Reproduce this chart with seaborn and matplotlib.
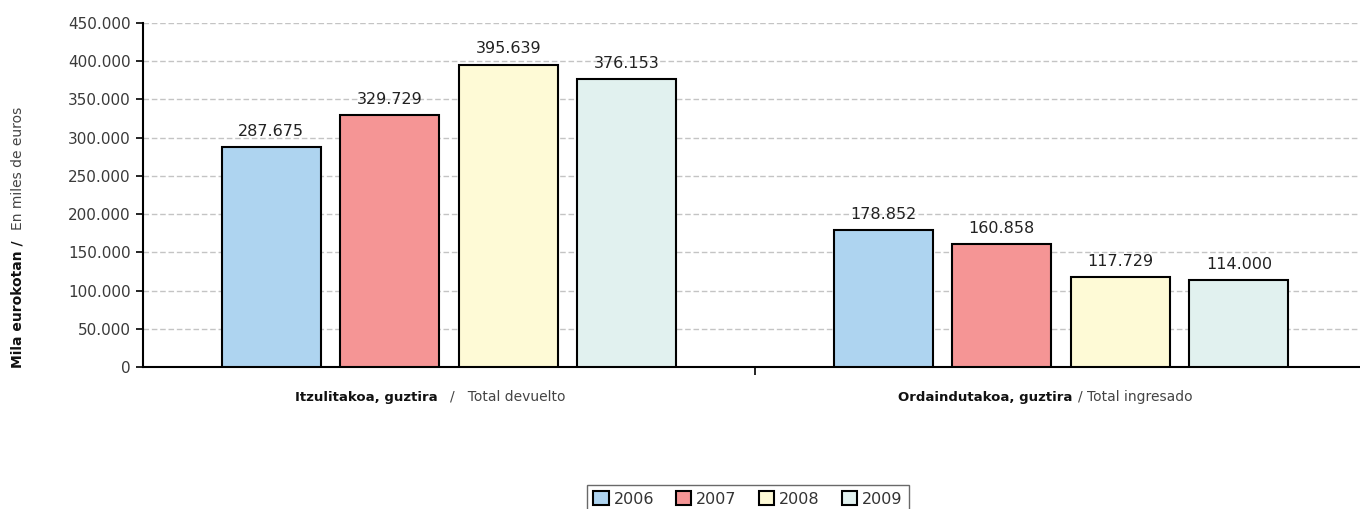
import matplotlib
matplotlib.use("Agg")
import matplotlib.pyplot as plt
import seaborn as sns
import pandas as pd
from matplotlib.ticker import FuncFormatter, MultipleLocator

categories = ["Itzulitakoa, guztira", "Ordaindutakoa, guztira"]
years = ["2006", "2007", "2008", "2009"]
values_2006 = [287675, 178852]
values_2007 = [329729, 160858]
values_2008 = [395639, 117729]
values_2009 = [376153, 114000]
colors = ["#AED4F0", "#F59595", "#FEFAD6", "#E1F1EF"]

rows = []
for yr, vals in zip(years, [values_2006, values_2007, values_2008, values_2009]):
    for c, v in zip(categories, vals):
        rows.append({"cat": c, "year": yr, "value": v})
df = pd.DataFrame(rows)

sns.set_theme(style="white")
plt.rcParams["font.family"] = ["DejaVu Sans"]

W, H = 1360, 509
fig = plt.figure(figsize=(13.6, 5.09), dpi=100)
ax = fig.add_axes([143/W, 1-367/H, 1224/W, (367-23)/H])

sns.barplot(data=df, x="cat", y="value", hue="year", palette=colors,
            saturation=1, edgecolor="black", linewidth=1.5, width=0.775,
            gap=0.165, ax=ax, legend=True, zorder=3)

thou = lambda v, p=None: f"{v:,.0f}".replace(",", ".")
for cont in ax.containers:
    ax.bar_label(cont, fmt=lambda v: f"{v:,.0f}".replace(",", "."),
                 padding=6, fontsize=11.5, color="#222222")

ax.set_ylim(0, 450000)
ax.set_xlim(-0.5, 1.5)
ax.yaxis.set_major_locator(MultipleLocator(50000))
ax.yaxis.set_major_formatter(FuncFormatter(thou))
ax.yaxis.grid(True, color="#c4c4c4", linestyle=(0, (4, 2)), linewidth=1, zorder=0)
ax.xaxis.grid(False)
ax.set_axisbelow(True)
ax.set_xticks([0.5])
ax.set_xticklabels([""])
ax.set_xlabel("")
ax.set_ylabel("")
for s in ["top", "right"]:
    ax.spines[s].set_visible(False)
for s in ["left", "bottom"]:
    ax.spines[s].set_color("black")
    ax.spines[s].set_linewidth(1.5)
ax.tick_params(axis="y", length=5, width=1.2, color="black", labelsize=11,
               labelcolor="#3a3a3a", left=True, pad=4)
ax.tick_params(axis="x", length=6, width=1.2, color="black", bottom=True)

# category labels (bold + regular)
ylab = 1 - 397/H
fig.text(438/W, ylab, "Itzulitakoa, guztira", ha="right", va="center",
         fontsize=9.5, fontweight="bold", color="#111111")
fig.text(450/W, ylab, "/   Total devuelto", ha="left", va="center",
         fontsize=10, color="#444444")
fig.text(1072/W, ylab, "Ordaindutakoa, guztira", ha="right", va="center",
         fontsize=9.5, fontweight="bold", color="#111111")
fig.text(1078/W, ylab, "/ Total ingresado", ha="left", va="center",
         fontsize=10, color="#444444")

# y label (bold + regular)
fig.text(18/W, 1-235/H, "Mila eurokotan / ", rotation=90, ha="center",
         va="top", fontsize=10, fontweight="bold", color="#111111")
fig.text(18/W, 1-230/H, "En miles de euros", rotation=90, ha="center",
         va="bottom", fontsize=10, color="#444444")

leg = ax.legend(loc="upper center", bbox_to_anchor=(748/W, 1-485/H),
                bbox_transform=fig.transFigure, ncol=4, frameon=True,
                fontsize=11.5, handlelength=0.95, handleheight=0.95,
                handletextpad=0.3, columnspacing=1.4, borderpad=0.4,
                borderaxespad=0, fancybox=False)
leg.get_frame().set_edgecolor("#444444")
leg.get_frame().set_linewidth(1.0)
for t in leg.get_texts():
    t.set_color("#333333")
for h in leg.legend_handles:
    h.set_edgecolor("black")
    h.set_linewidth(1.5)

fig.savefig("out.png", dpi=100)
